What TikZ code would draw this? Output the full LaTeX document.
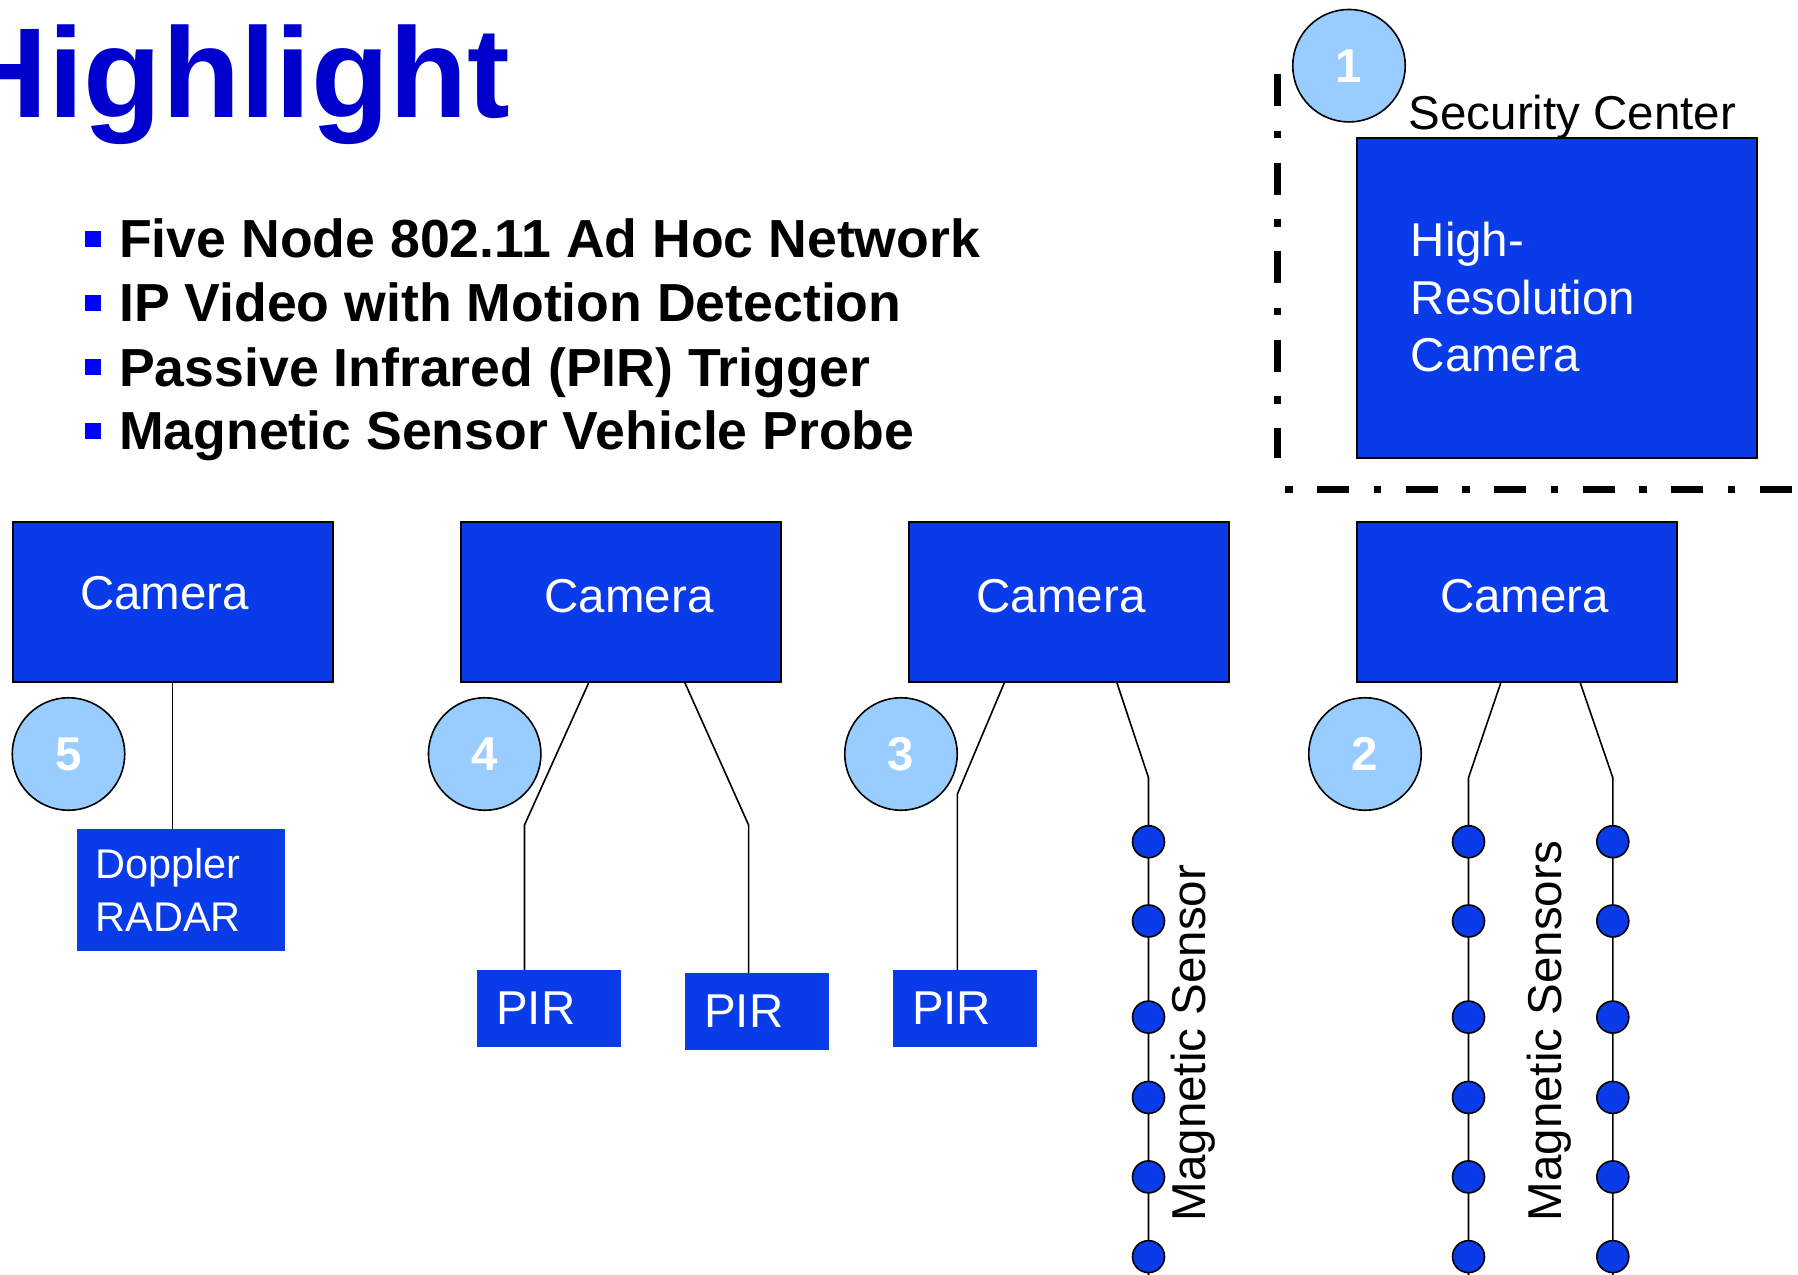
\documentclass[tikz,border=0pt]{standalone}
\usepackage{fontspec}
\setmainfont{Liberation Sans}

\definecolor{boxblue}{RGB}{10,59,232}
\definecolor{badgeblue}{RGB}{153,204,255}
\definecolor{titleblue}{RGB}{0,0,204}
\definecolor{bulletblue}{RGB}{0,0,255}

\begin{document}
\begin{tikzpicture}[x=1pt, y=-1pt,
        cambox/.style={draw=black, line width=2pt, fill=boxblue, minimum width=320pt, minimum height=160pt},
        pirbox/.style={fill=boxblue, text=white, font=\fontsize{47.5}{57.5}\selectfont, minimum width=144pt, minimum height=76.7pt, inner xsep=19pt, inner ysep=0pt, text width=106pt, align=left},
        badge/.style={circle, draw=black, line width=1.6pt, fill=badgeblue, minimum size=112.5pt, inner sep=0pt, text=white, font=\fontsize{47.5}{57.5}\selectfont\bfseries},
        lbl/.style={inner sep=0pt, font=\fontsize{47.5}{57.5}\selectfont},
        item/.style={inner sep=0pt, anchor=base west, font=\fontsize{53.6}{64}\selectfont\bfseries},
        wire/.style={draw=black, line width=1.6pt},
        sensor/.style={draw=black, line width=1.6pt, fill=boxblue},
        zone/.style={line width=7.5pt, dash pattern=on 32pt off 24.5pt on 7.5pt off 24.5pt}]
        \useasboundingbox (0,0) rectangle (1798,1274);

        \node[inner sep=0pt, anchor=base east, text=titleblue, font=\fontsize{128}{150}\selectfont\bfseries] (title) at (510.6,117) {Highlight};

        \fill[bulletblue] (84.8,230.7) rectangle +(16,16);
        \fill[bulletblue] (84.8,295) rectangle +(16,16);
        \fill[bulletblue] (84.8,359) rectangle +(16,16);
        \fill[bulletblue] (84.8,423.3) rectangle +(16,16);
        \node[item] (item1) at (119,257.7) {Five Node 802.11 Ad Hoc Network};
        \node[item] (item2) at (119,321.7) {IP Video with Motion Detection};
        \node[item] (item3) at (119,386) {Passive Infrared (PIR) Trigger};
        \node[item] (item4) at (119,449.3) {Magnetic Sensor Vehicle Probe};

        \draw[zone] (1277.3,74) -- (1277.3,457.7);
        \draw[zone, dash phase=56.5pt] (1285,489.7) -- (1810,489.7);
        \node[cambox, minimum width=400pt, minimum height=320pt, text width=292pt, align=left, text=white, font=\fontsize{47.5}{57.5}\selectfont] (hires) at (1556.7,297.5) {High-\\Resolution\\Camera};
        \node[lbl, anchor=base west] (seclbl) at (1408.6,129.3) {Security Center};
        \node[badge] (n1) at (1349,65.7) {1};

        \node[cambox] (cam5) at (172.6,602) {};
        \node[cambox] (cam4) at (621,602) {};
        \node[cambox] (cam3) at (1069,602) {};
        \node[cambox] (cam2) at (1516.5,602) {};
        \node[lbl, text=white] (cam5lbl) at ([xshift=-8pt, yshift=9pt]cam5.center) {Camera};
        \node[lbl, text=white] (cam4lbl) at ([xshift=8pt, yshift=6pt]cam4.center) {Camera};
        \node[lbl, text=white] (cam3lbl) at ([xshift=-8pt, yshift=6pt]cam3.center) {Camera};
        \node[lbl, text=white] (cam2lbl) at ([xshift=8pt, yshift=6pt]cam2.center) {Camera};

        \node[badge] (n5) at (68.5,754) {5};
        \node[badge] (n4) at (484.7,754) {4};
        \node[badge] (n3) at (901,754) {3};
        \node[badge] (n2) at (1365,754) {2};

        \node[pirbox, font=\fontsize{41.5}{52.4}\selectfont, minimum width=208pt, minimum height=122pt, inner xsep=18.5pt, text width=171pt] (doppler) at (181,889.9) {Doppler\\RADAR};
        \node[pirbox] (pirA) at (549.2,1008.3) {PIR};
        \node[pirbox] (pirB) at (757.2,1011.3) {PIR};
        \node[pirbox] (pirC) at (965,1008.3) {PIR};

        \coordinate (k4a) at (524.5,825);
        \coordinate (k4b) at (748.6,825);
        \coordinate (k3a) at (957.4,794);
        \coordinate (k3b) at (1148.5,777.7);
        \coordinate (k2a) at (1468.5,777.7);
        \coordinate (k2b) at (1612.8,777.7);
        \coordinate (e3b) at (1148.5,1290);
        \coordinate (e2a) at (1468.5,1290);
        \coordinate (e2b) at (1612.8,1290);

        \draw[wire] (cam5.south) -- (cam5.south |- doppler.north);
        \draw[wire] ([xshift=-32.4pt]cam4.south) -- (k4a) -- (k4a |- pirA.north);
        \draw[wire] ([xshift=64pt]cam4.south) -- (k4b) -- (k4b |- pirB.north);
        \draw[wire] ([xshift=-64.8pt]cam3.south) -- (k3a) -- (k3a |- pirC.north);
        \draw[wire] ([xshift=48pt]cam3.south) -- (k3b) -- (e3b);
        \draw[wire] ([xshift=-15.8pt]cam2.south) -- (k2a) -- (e2a);
        \draw[wire] ([xshift=63.8pt]cam2.south) -- (k2b) -- (e2b);

        \filldraw[sensor] (1148.5,841.7) circle (16pt) (1468.5,841.7) circle (16pt) (1612.8,841.7) circle (16pt);
        \filldraw[sensor] (1148.5,921) circle (16pt) (1468.5,921) circle (16pt) (1612.8,921) circle (16pt);
        \filldraw[sensor] (1148.5,1017.1) circle (16pt) (1468.5,1017.1) circle (16pt) (1612.8,1017.1) circle (16pt);
        \filldraw[sensor] (1148.5,1097.4) circle (16pt) (1468.5,1097.4) circle (16pt) (1612.8,1097.4) circle (16pt);
        \filldraw[sensor] (1148.5,1176.9) circle (16pt) (1468.5,1176.9) circle (16pt) (1612.8,1176.9) circle (16pt);
        \filldraw[sensor] (1148.5,1256.6) circle (16pt) (1468.5,1256.6) circle (16pt) (1612.8,1256.6) circle (16pt);

        \node[lbl, rotate=90, anchor=base west] (mag3) at (1205.2,1221.4) {Magnetic Sensor};
        \node[lbl, rotate=90, anchor=base west] (mag2) at (1561.2,1221.4) {Magnetic Sensors};
\end{tikzpicture}
\end{document}
